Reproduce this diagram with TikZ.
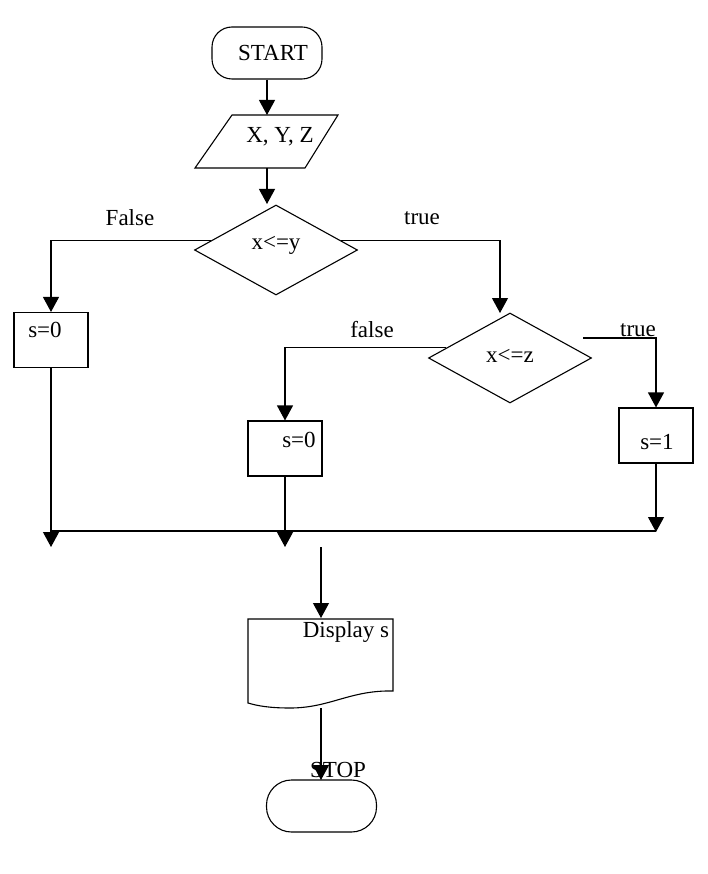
\documentclass[tikz,border=0pt]{standalone}
\usepackage{fontspec}
\setmainfont{Liberation Serif}
\usetikzlibrary{shapes.geometric,arrows.meta,calc}
\begin{document}
\begin{tikzpicture}[x=1pt,y=-1pt,line width=1.1pt,
  font=\fontsize{23}{27}\selectfont,
  arr/.style={-{Triangle[length=15pt,width=16pt]}},
  term/.style={draw,rounded corners=20pt,minimum width=110pt,minimum height=52pt,inner sep=0pt},
  proc/.style={draw,rectangle,minimum width=74pt,minimum height=55pt,inner sep=0pt},
  dec/.style={draw,diamond,minimum width=163pt,minimum height=90pt,inner sep=0pt},
  txt/.style={inner sep=0pt}]
\useasboundingbox (0,0) rectangle (708,874);

% start
\node[term] (start) at (267,53) {\hspace*{12pt}START};
% input parallelogram
\draw (232,115) -- (338,115) -- (305,168) -- (195,168) -- cycle;
\node[txt] (inp) at (280,137) {X, Y, Z};
\coordinate (intop) at (267,115);
\coordinate (inbot) at (267,168);
\draw[arr] (start.south) -- (intop);

% decision 1
\node[dec] (d1) at (276,250) {};
\node[txt] (d1t) at (276,245) {x<=y};
\coordinate (d1in) at (267,204);
\draw[arr] (inbot) -- (d1in);

% false branch 1
\node[proc] (sf1) at (51,340) {};
\node[txt] (sf1t) at (45,330) {s=0};
\draw[arr] (d1.172) -| (sf1.north);
\node[txt] (lf1) at (130,218) {False};

% true branch 1 -> decision 2
\node[dec] (d2) at (510,358) {};
\node[txt] (d2t) at (510,356) {x<=z};
\coordinate (d2in) at (500,313);
\draw[arr] (d1.8) -| (d2in);
\node[txt] (lt1) at (422,218) {true};

% false branch 2
\node[proc] (sf2) at (285,448.5) {};
\node[txt] (sf2t) at (299,440) {s=0};
\draw[arr] (d2.171) -| (sf2.north);
\node[txt] (lf2) at (372,330) {false};

% true branch 2
\node[proc] (st) at (656,435.5) {};
\node[txt] (stt) at (657,442) {s=1};
\coordinate (t2s) at (583,338);
\draw[arr] (t2s) -| (st.north);
\node[txt] (lt2) at (638,330) {true};

% merge line
\coordinate (m1) at (51,531);
\coordinate (m3) at (656,531);
\draw (m1) -- (m3);
\coordinate (e1) at (51,547);
\coordinate (e2) at (285,547);
\coordinate (e3) at (656,532);
\draw[arr] (sf1.south) -- (e1);
\draw[arr] (sf2.south) -- (e2);
\draw[arr] (st.south) -- (e3);

% display
\coordinate (dtop0) at (321,547);
\coordinate (dtop) at (321,618);
\draw[arr] (dtop0) -- (dtop);
\draw (248,619) -- (393,619) -- (393,691)
  .. controls (350,690) and (330,708) .. (290,708)
  .. controls (270,708) and (258,706) .. (248,703) -- cycle;
\node[txt] (disp) at (346,632) {Display s};

% stop
\coordinate (dbot) at (321,708);
\node[term,rounded corners=25pt] (stop) at (321.5,806) {};
\coordinate (stopin) at (321,780);
\draw[arr] (dbot) -- (stopin);
\node[txt] (stopt) at (338,770) {STOP};
\end{tikzpicture}
\end{document}
